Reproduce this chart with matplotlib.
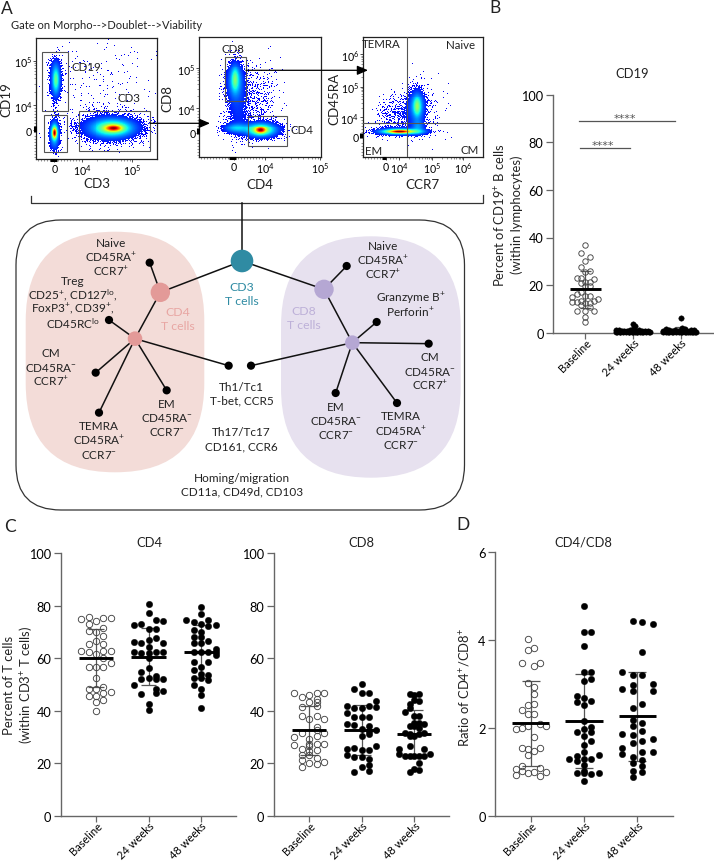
import numpy as np
import matplotlib
matplotlib.use("Agg")
import matplotlib.pyplot as plt
from matplotlib.patches import FancyBboxPatch, Circle, Rectangle
from matplotlib.transforms import ScaledTranslation

plt.rcParams['font.family'] = ['Lato', 'DejaVu Sans']
plt.rcParams['mathtext.default'] = 'regular'
plt.rcParams['text.color'] = '#222222'

W, H = 714, 862
GROUPS = ['Baseline', '24 weeks', '48 weeks']

# ---- swarm data: (column offset in swarm steps, value) ----
b_base_col = [0,-1,1,0,-1,1,0,-2,-1,2,0,1,-1,1,0,-3,-2,-1,0,1,-3,-2,-1,2,3,0,1,-1,-2,0,1,2,0,0]
b_base_val = [37,33.5,31.8,30.1,27.4,25.8,25.6,22.8,22.8,22.5,21.1,21.4,20.9,19.7,19.5,15.1,16.2,17.2,15.5,15.5,13,13,13.4,13.4,14.3,12.5,12.5,11.6,9.2,9,10.6,9.1,6.4,4.3]
b_w24_col = [0,0.5,-4,-3.3,-2.6,-2,-1.3,-0.6,0,0.7,1.4,2,2.7,3.4,4,-3.6,-2.9,-2.2,-1.6,-0.9,-0.3,0.4,1,1.7,2.4,3.1,3.7,-4,-3,-1,0,1,2]
b_w24_val = [3.6,2.9,1.2,1.3,0.9,0.8,0.7,1.2,1.7,0.9,1.1,0.9,0.6,0.9,0.5,0.3,0.4,0.3,0.2,0.3,0.4,0.3,0.2,0.3,0.2,0.3,0.3,0.5,0.5,0.4,0.5,0.3,0.4]
b_w48_col = [0,-3.3,-2.6,0.3,1,-4,-3,-2,-1.3,-0.6,0,0.7,1.4,2.4,3.1,-4,-3.5,-2.7,-2,-1.2,-0.5,0.4,1,1.7,2.2,2.9,3.6,-3,-1.8,0,1.2,2.5,3.4]
b_w48_val = [6.3,1.6,1.3,1.8,1.5,0.9,0.8,0.9,1,0.7,1.1,0.8,0.9,1.2,1.2,0.3,0.3,0.4,0.2,0.3,0.3,0.2,0.4,0.3,0.2,0.4,0.3,0.5,0.5,0.4,0.5,0.4,0.5]
b_mean = [18.2, 0.8, 0.9]
b_low = [10.3, 0.2, 0.1]
b_high = [26, 1.5, 2.2]

cd4_base_col = [-2,-1,1,2,0,-1,1,-1,0,1,0,-1,1,-2,-1,1,2,0,1,2,-1,0,1,0,1,-1,0,2,1,-1,0,1,0,0]
cd4_base_val = [75,75.7,75.4,75.4,74.2,73.2,71.4,70.3,69.9,68.6,66.6,65.4,65.4,62.9,62.4,62.9,62.9,61.6,60.1,58.2,56.5,56.5,56.5,52.5,49,48.2,48.2,47,46.8,45.7,45.7,44.2,43.5,39.8]
cd4_w24_col = [0,0,1,2,-2,-1,0,1,1,0,-2,-1,2,0,-2,-1,0,1,2,0,0,-1,1,0,-1,1,2,-2,2,1,-1,1,0,0]
cd4_w24_val = [80.8,77.1,74.7,74.3,72.7,73.1,71.2,71.2,67.9,67.1,66.2,65.8,65.8,64.2,62.3,62,62,62.5,62.5,60,56.4,54.6,53.4,52.6,52.2,52.1,52.1,50,47.6,48.3,46.4,46.6,42.7,40.2]
cd4_w48_col = [0,0,-2,-1,1,0,2,1,-1,0,-1,0,-1,0,1,2,-1,0,1,2,2,-1,1,0,-1,0,-1,0,1,1,-1,0,0,0]
cd4_w48_val = [79.7,76.9,74.5,74,74.6,73,72.8,72.2,70.9,70.1,68.2,68.2,65.7,65.7,66.5,63.5,62.3,62.3,62.3,62.3,61.4,58.6,58.6,56.8,55.4,53.9,52.3,52.3,53.7,51.6,49.8,48.4,46.1,40.9]
cd4_mean = [60.1, 60.6, 62.5]
cd4_low = [49.2, 50, 52.5]
cd4_high = [71.2, 71.4, 72.5]

cd8_base_col = [-2,-1,0,1,2,1,0,1,-1,1,-1,1,0,2,1,-1,2,1,-2,1,0,0,-2,2,1,-1,1,0,0,-1,-1,1,2,0,1,-1,0]
cd8_base_val = [46.8,45.3,46.1,46.6,46.8,44.4,43.4,43.4,41.6,41.9,37.9,38.1,36.7,36.7,33.8,31.5,31.5,32.7,30,30.5,29.2,27.5,27,27.5,27.3,25.6,25.1,26.4,24.5,23.2,21.3,22.1,20.6,19.9,19.7,18.5,23.2]
cd8_w24_col = [0,-1,0,1,2,-2,-1,0,1,2,-2,-1,0,1,-2,-1,0,1,2,1,0,1,2,-2,-1,0,1,-2,-1,0,1,1,0,1,-1]
cd8_w24_val = [50.1,48.1,46.7,46.7,43.8,41.9,41.1,41.1,41.9,41.5,39.2,37.7,37.7,37.7,34.9,34.5,33,34,32.7,32.2,30.3,31,26.4,25.4,25.9,24.9,24.9,23.1,22.2,22.2,21.6,19.3,18.4,17.1,16.8]
cd8_w48_col = [-0.6,0.7,0,0.7,0,-0.6,-1.3,-0.6,0,0.7,0,0.7,1.4,-0.6,0,0.7,-1.3,-0.6,0,0.7,1.4,-0.6,-2,-0.6,-2,-1.3,-0.6,0,0.7,1.4,2.1,1.4,0.7,0,-0.6,0.7]
cd8_w48_val = [46.4,46.4,45.9,43.9,44.2,42.6,39.7,41,38.1,38.1,35.5,35.5,35,34.3,34.3,33.4,31.7,31.1,30.5,31.1,31.5,30.5,25.6,26.6,23.4,22.6,22.8,22.6,22.6,25.4,23.5,22.6,20.1,17.8,16.5,17.5]
cd8_mean = [32.6, 32.6, 31.3]
cd8_low = [23, 23, 22.5]
cd8_high = [41.8, 42, 40.2]

ratio_base_col = [-.45,-.45,.36,-1.2,1.2,.4,-.45,.36,.36,-.45,.36,-1.2,-.45,.36,-2,-1.2,-.45,1.2,2,.4,-1.2,-.45,.36,1.2,-.45,-2,-1.2,1.2,-2,-1.2,-.45,.36,1.2,2]
ratio_base_val = [4.03,3.78,3.82,3.47,3.48,3.40,3.01,2.92,2.78,2.53,2.54,2.41,2.31,2.31,1.98,2.0,2.05,2.09,2.04,1.78,1.53,1.52,1.48,1.53,1.37,1.07,1.13,1.08,.93,1.01,.98,1.0,.9,.99]
ratio_w24_col = [0,0,1,0,0,1,1,0,-1,0,-1,1,0,0,1,0,-1,1,0,1,0,0,-1,2,-2,0,1,-1,0,0,-1,0,1,2,0]
ratio_w24_val = [4.78,4.17,4.17,3.85,3.26,3.26,3.12,3.07,2.72,2.68,2.59,2.62,2.53,2.16,2.02,1.97,1.9,1.9,1.81,1.71,1.6,1.45,1.36,1.37,1.3,1.28,1.28,1.25,1.15,1.02,.97,.97,.95,.98,.79]
ratio_w48_col = [-.6,.7,2.1,.7,-2,-.6,.7,-2,-.6,2.1,-.6,2.1,.7,-.6,-.6,.7,-.6,.7,-2,-.6,.7,2.1,-.6,-2,.7,2.1,-2,-.6,.7,-.6,.7,-.6,.7,-.6]
ratio_w48_val = [4.42,4.41,4.37,3.72,3.27,3.2,3.19,2.89,2.97,3.0,2.83,2.83,2.55,2.46,2.18,2.12,2.04,1.93,1.87,1.83,1.71,1.75,1.65,1.53,1.46,1.46,1.4,1.34,1.27,1.2,1.13,1.02,.99,.89]
ratio_mean = [2.1, 2.15, 2.26]
ratio_low = [1.14, 1.09, 1.25]
ratio_high = [3.06, 3.22, 3.28]

# ---- flow plots: blobs (cx, cy, sx, sy, weight) in reference-crop units ----
flow1_blobs = [(166,240,5,18,.16),(166,245,9,30,.16),(165,205,10,20,.03),(162,403,4,10,.75),(162,403,8,20,.25),(162,440,9,14,.03),
               (342,389,16,6,.6),(338,389,34,14,.32),(330,388,50,22,.10),(163,330,5,25,.006),(215,383,20,6,.004),(300,260,100,80,.0012)]
flow2_blobs = [(705,240,6,20,.18),(706,245,13,30,.16),(708,265,18,40,.03),(715,340,20,42,.03),(710,388,22,9,.16),
               (782,395,10,6,.6),(782,394,24,11,.35),(785,392,34,15,.09),(775,285,30,50,.01)]
flow3_blobs = [(1195,398,20,3,.55),(1205,398,34,4.5,.4),(1195,398,42,7,.1),(1250,322,6,16,.18),(1250,322,11,24,.16),(1250,320,17,34,.05),
               (1252,385,12,14,.1),(1225,340,22,30,.02),(1170,345,26,32,.012),(1300,340,28,45,.002)]

fig = plt.figure(figsize=(W/100, H/100), dpi=100)

def add_ax(l, t, r, b, **kw):
    return fig.add_axes([l/W, 1-b/H, (r-l)/W, (b-t)/H], **kw)

# ---- overlay in pixel units for the schematic ----
ov = add_ax(0, 0, W, H, zorder=0)
ov.set_xlim(0, W); ov.set_ylim(H, 0); ov.axis('off')

def S(zx, zy):
    return zx/3, 210 + zy/3

def T(x, y, s, fs=8.5, color='#222222', ha='center', rot=0, **kw):
    ov.text(x, y, s, fontsize=fs, color=color, ha=ha, va='center', rotation=rot, **kw)

box = FancyBboxPatch((16+45, 221+45), 448.5-90, 290-90, boxstyle='round,pad=45', fc='none', ec='#333333', lw=0.9)
ov.add_patch(box)
pink = FancyBboxPatch((25.7+89, 232.7+89), 178.6-178, 240.6-178, boxstyle='round,pad=89,rounding_size=89', fc='#f3dcd8', ec='none')
ov.add_patch(pink)
purp = FancyBboxPatch((281+89.8, 237.3+89.8), 179.7-179.6, 241.4-179.6, boxstyle='round,pad=89.8,rounding_size=89.8', fc='#e7e1ef', ec='none')
ov.add_patch(purp)

hub3 = (726,156); hub4 = (481,250); hub8 = (972,241); sub4 = (405,389); sub8 = (1057,401)
leaves4 = [(327,333),(287,491),(297,611),(500,544),(686,470)]
leaves8 = [(1130,339),(1286,404),(1191,582),(1007,552),(753,470)]
top4 = (449,161); top8 = (1040,171)
edges = [(hub3,hub4),(hub3,hub8),(hub4,top4),(hub8,top8),(hub4,sub4),(hub8,sub8)]
edges += [(sub4,p) for p in leaves4] + [(sub8,p) for p in leaves8]
for a, b in edges:
    ov.plot([S(*a)[0], S(*b)[0]], [S(*a)[1], S(*b)[1]], color='#111111', lw=1.1, zorder=2)
for p in leaves4 + leaves8 + [top4, top8]:
    ov.add_patch(Circle(S(*p), 4.1, fc='black', ec='none', zorder=3))
for p, r, c in [(hub3,11.3,'#2f8ba3'),(hub4,9.7,'#e39a98'),(hub8,9.7,'#b5a7d3'),(sub4,7.3,'#e39a98'),(sub8,7.3,'#b5a7d3')]:
    ov.add_patch(Circle(S(*p), r, fc=c, ec='none', zorder=4))

# bracket and link
ov.plot([31,31,483,483],[197,204,204,196], color='#333333', lw=0.9)
ov.plot([242,242],[204,262], color='#111111', lw=1.1, zorder=2)

def block(zx, zy, lines, color='#222222', fs=8.5, gap=14):
    x, y = S(zx, zy)
    for i, s in enumerate(lines):
        T(x, y + i*gap, s, fs=fs, color=color)

p = '$^{+}$'; m = '$^{-}$'; lo = '$^{lo}$'
block(334,101,['Naive','CD45RA'+p,'CCR7'+p])
block(218,214,['Treg','CD25'+p+', CD127'+lo+',','FoxP3'+p+', CD39'+p+',','CD45RC'+lo])
block(154,431,['CM','CD45RA'+m,'CCR7'+p])
block(298,650,['TEMRA','CD45RA'+p,'CCR7'+m])
block(500,583,['EM','CD45RA'+m,'CCR7'+m])
block(725,532,['Th1/Tc1','T-bet, CCR5'])
block(725,668,['Th17/Tc17','CD161, CCR6'])
block(725,805,['Homing/migration','CD11a, CD49d, CD103'])
block(1150,110,['Naive','CD45RA'+p,'CCR7'+p])
block(1232,264,['Granzyme B'+p,'Perforin'+p])
block(1291,443,['CM','CD45RA'+m,'CCR7'+p])
block(1203,621,['TEMRA','CD45RA'+p,'CCR7'+m])
block(1007,592,['EM','CD45RA'+m,'CCR7'+m])
block(726,232,['CD3','T cells'], color='#2f8ba3', fs=8.8)
block(533,309,['CD4','T cells'], color='#e8a6a3', fs=8.8)
block(912,306,['CD8','T cells'], color='#bdb0d8', fs=8.8)

# panel letters and gate title
for s, x, y in [('A',7,9),('B',495,8),('C',10,527),('D',463,525)]:
    T(x, y, s, fs=12.5)
T(10.7, 25.7, 'Gate on Morpho-->Doublet-->Viability', fs=8.0, ha='left')

# ---- flow panels ----
def density_image(ax, blobs, x0, x1, y0, y1, npx):
    xs = np.linspace(x0, x1, npx); ys = np.linspace(y0, y1, npx)
    X, Y = np.meshgrid(xs, ys)
    d = np.zeros_like(X)
    for cx, cy, sx, sy, w in blobs:
        d += w*np.exp(-.5*((X-cx)/sx)**2 - .5*((Y-cy)/sy)**2)
    d = np.clip(d, 0, 1)
    i, j = np.meshgrid(np.arange(npx), np.arange(npx))
    thresh = (np.sin(i*12.9898 + j*78.233)*43758.5453) % 1   # fixed dither pattern
    show = (d/0.03) > thresh
    v = 0.10 + 0.88*d**0.75
    rgba = plt.get_cmap('jet')(v)
    rgba[..., 3] = show.astype(float)
    ax.imshow(rgba, extent=(x0, x1, y1, y0), origin='upper', aspect='auto', interpolation='nearest', zorder=1)

def decade_minor(positions):
    out = []
    for a, b in zip(positions[:-1], positions[1:]):
        out += [a + (b-a)*np.log10(k) for k in range(2, 10)]
    return out

def flow_ax(l, t, r, b, zx0, zx1, zy0, zy1, blobs, xt, xl, yt, yl, xzero, yzero):
    ax = add_ax(l, t, r, b, zorder=2)
    density_image(ax, blobs, zx0, zx1, zy0, zy1, int(r-l)+1)
    ax.set_xlim(zx0, zx1); ax.set_ylim(zy1, zy0)
    ax.set_xticks(xt); ax.set_xticklabels(xl, fontsize=7.6)
    ax.set_yticks(yt); ax.set_yticklabels(yl, fontsize=7.6)
    ax.tick_params(length=2.2, width=.6, pad=0.6, color='#333333')
    mx = [v for v in decade_minor(xt[1:]) if zx0 < v < zx1]
    my = [v for v in decade_minor(yt[-2::-1]) if zy0 < v < zy1]
    ax.set_xticks(mx + list(np.arange(zx0+6, xt[0]-12, 9)) + list(np.arange(xt[0]+12, xt[1], 9)), minor=True)
    ax.set_yticks(my + list(np.arange(zy1-6, yt[-1]+12, -9)) + list(np.arange(yt[-1]-12, yt[-2], -9)), minor=True)
    ax.tick_params(which='minor', length=1.4, width=.4, color='#444444')
    for s in ax.spines.values():
        s.set_linewidth(.9); s.set_color('#222222')
    ax.plot(xzero, [zy1+3]*2, color='black', lw=2.2, clip_on=False, zorder=5, solid_capstyle='butt')
    ax.plot([zx0-4]*2, yzero, color='black', lw=2.2, clip_on=False, zorder=5, solid_capstyle='butt')
    return ax

def gate(ax, x0, y0, x1, y1):
    ax.add_patch(Rectangle((x0, y0), x1-x0, y1-y0, fc='none', ec='#555555', lw=.8, zorder=3))

def e(n):
    return '10$^{%d}$' % n

a1 = flow_ax(36, 39, 157, 160, 108, 470, 117, 480, flow1_blobs, [163,245,395], ['0',e(4),e(5)], [185,318,393], [e(5),e(4),'0'], [150,170], [380,398])
a2 = flow_ax(199.3, 38, 320.7, 158, 598, 962, 114, 474, flow2_blobs, [701,795,960], ['0',e(4),e(5)], [207,328,402], [e(5),e(4),'0'], [686,708], [388,404])
a3 = flow_ax(362.7, 37.7, 483.3, 157.7, 1088, 1450, 113, 473, flow3_blobs, [1157,1197,1297,1390], ['0',e(4),e(5),e(6)], [165,263,355,412], [e(6),e(5),e(4),'0'], [1145,1157], [402,416])
gate(a1,125,160,205,335); gate(a1,133,347,200,458); gate(a1,236,336,449,455)
gate(a2,675,175,737,307); gate(a2,745,352,862,440)
a3.axvline(1220, color='#555555', lw=.8, zorder=3); a3.axhline(373, color='#555555', lw=.8, zorder=3)

def Z(zx, zy):
    return zx/3, zy/3
for s, zx, zy, kw in [('CD3',292,552,{}),('CD19',20,298,{'rot':90}),('CD4',780,554,{}),('CD8',503,297,{'rot':90}),
                      ('CCR7',1268,554,{}),('CD45RA',1002,297,{'rot':90})]:
    T(*Z(zx, zy), s, fs=9.6, **kw)

ov2 = add_ax(0, 0, W, H, zorder=3)
ov2.set_xlim(0, W); ov2.set_ylim(H, 0); ov2.axis('off'); ov2.patch.set_alpha(0)
for s, zx, zy in [('CD19',260,202),('CD3',388,297),('CD8',698,148),('CD4',905,390),('TEMRA',1145,135),('Naive',1382,137),('EM',1120,455),('CM',1410,452)]:
    x, y = Z(zx, zy)
    ov2.text(x, y, s, fontsize=8.3, ha='center', va='center', color='#222222')
for x0, x1, y in [(150,210,124.3),(246,368,71.3)]:
    ov2.annotate('', xy=(x1, y), xytext=(x0, y), arrowprops=dict(arrowstyle='-|>,head_length=0.65,head_width=0.28', color='black', lw=.9, shrinkA=0, shrinkB=0))

# ---- swarm panels ----
def swarm_panel(rect, title, tx, ymax, yticks, cols, vals, means, lows, highs, step, ms, mean_w, cap_w):
    ax = add_ax(*rect, zorder=4)
    ax.patch.set_alpha(0)
    ax.set_xlim(-.67, 2.67); ax.set_ylim(0, ymax)
    for i in range(3):
        ax.vlines(i, lows[i], highs[i], color='#555555', lw=.9, zorder=2)
        ax.hlines([lows[i], highs[i]], i-cap_w, i+cap_w, color='#555555', lw=.9, zorder=2)
        x = i + np.array(cols[i])*step
        if i == 0:
            ax.plot(x, vals[i], 'o', ms=ms, mfc='none', mec='#444444', mew=.65, clip_on=False, zorder=3)
        else:
            ax.plot(x, vals[i], 'o', ms=ms, mfc='black', mec='black', mew=.3, clip_on=False, zorder=3)
        ax.hlines(means[i], i-mean_w, i+mean_w, color='black', lw=2.1, zorder=4)
    for s in ['top','right']:
        ax.spines[s].set_visible(False)
    for s in ['left','bottom']:
        ax.spines[s].set_color('#666666'); ax.spines[s].set_linewidth(1.0)
    ax.set_yticks(yticks); ax.set_xticks(range(3))
    ax.set_xticklabels(GROUPS, rotation=45, ha='right', va='center', rotation_mode='anchor', fontsize=8.0)
    ax.tick_params(axis='y', length=5, width=.9, color='#666666', labelsize=9.2, pad=2)
    ax.tick_params(axis='x', length=4.5, width=.9, color='#666666', pad=1.5)
    shift = ScaledTranslation(4/100, 0, fig.dpi_scale_trans)
    for lab in ax.get_xticklabels():
        lab.set_transform(lab.get_transform() + shift)
    T(tx, 543 if rect[1] > 400 else 74, title, fs=9.4)
    return ax

axB = swarm_panel((553.3,95.7,712.7,333.7), 'CD19', 631.7, 100, [0,20,40,60,80,100],
    [b_base_col,b_w24_col,b_w48_col],[b_base_val,b_w24_val,b_w48_val], b_mean,b_low,b_high, .091, 3.9, .33, .12)
sig_x = [[-.126,1.87],[-.11,.94]]
sig_y = [88.9, 77.6]
for xx, yy, tx in zip(sig_x, sig_y, [.83,.36]):
    axB.plot(xx, [yy,yy], color='#555555', lw=.9)
    axB.text(tx, yy+1.2, '****', fontsize=8, family='DejaVu Sans', color='#555555', ha='center', va='center')
axC1 = swarm_panel((61,554.3,236,816.7), 'CD4', 149.3, 100, [0,20,40,60,80,100],
    [cd4_base_col,cd4_w24_col,cd4_w48_col],[cd4_base_val,cd4_w24_val,cd4_w48_val], cd4_mean,cd4_low,cd4_high, .14, 4.6, .33, .15)
axC2 = swarm_panel((274,554.3,449.3,816.7), 'CD8', 361.3, 100, [0,20,40,60,80,100],
    [cd8_base_col,cd8_w24_col,cd8_w48_col],[cd8_base_val,cd8_w24_val,cd8_w48_val], cd8_mean,cd8_low,cd8_high, .14, 4.6, .33, .17)
axD = swarm_panel((495.3,553,672.7,816.7), 'CD4/CD8', 583, 6, [0,2,4,6],
    [ratio_base_col,ratio_w24_col,ratio_w48_col],[ratio_base_val,ratio_w24_val,ratio_w48_val], ratio_mean,ratio_low,ratio_high, .14, 4.6, .35, .17)

T(500.7, 215, 'Percent of CD19$^{+}$ B cells', fs=9.4, rot=90)
T(516.7, 215, '(within lymphocytes)', fs=9.4, rot=90)
T(9, 685, 'Percent of T cells', fs=9.4, rot=90)
T(25.7, 685, '(within CD3$^{+}$ T cells)', fs=9.4, rot=90)
T(465, 687, 'Ratio of CD4$^{+}$/CD8$^{+}$', fs=9.4, rot=90)

fig.savefig('out.png', dpi=100)
